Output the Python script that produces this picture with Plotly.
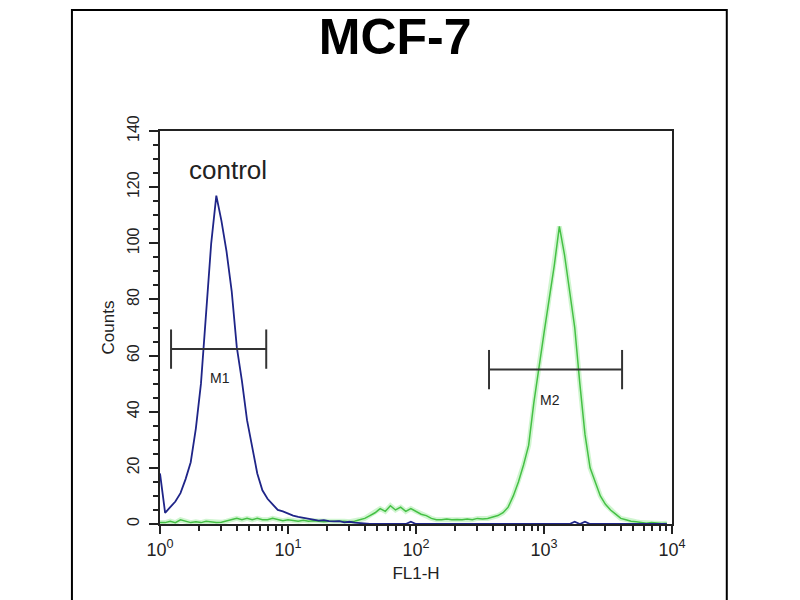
import plotly.graph_objects as go

# histogram channels: 25 bins per decade over 4 decades (10^0 .. 10^4)
bins_per_decade = 25
channels = list(range(100))

control_counts = [
    18, 4, 6, 8, 11, 16, 22, 34, 50, 74,
    100, 117, 108, 97, 83, 63, 51, 37, 27, 18,
    12, 9, 7, 5, 4.5, 3.6, 3, 2.5, 2.2, 2,
    1.5, 1.2, 1.4, 1, 0.9, 1, 0.6, 0.8, 0.5, 0.3,
    0, 0, 0, 0, 0, 0, 0, 0, 0, 0.8,
    0, 0, 0, 0, 0, 0, 0, 0, 0, 0,
    0, 0, 0, 0, 0, 0, 0, 0, 0, 0,
    0, 0, 0, 0, 0, 0, 0, 0, 0, 0,
    0, 0.8, 0, 0.8, 0, 0, 0, 0, 0, 0,
    0, 0, 0, 0, 0, 0, 0, 0, 0, 0,
]

sample_counts = [
    0.5, 0.5, 1, 0.5, 1.5, 1, 0.5, 0.8, 0.5, 1,
    0.8, 0.5, 0.6, 1, 1.5, 2, 1.5, 2, 1.5, 2,
    1.5, 1.5, 2, 1.5, 1.2, 1.5, 1.2, 1, 1.3, 1,
    1.2, 1, 0.8, 1, 1, 1.2, 1, 0.8, 1, 1.5,
    2, 3, 4, 5.5, 4.5, 6.5, 5, 6, 4.5, 5.5,
    4.5, 3.5, 3, 2, 1.5, 1.5, 1.8, 1.5, 1.6, 1.5,
    1.8, 1.5, 2, 1.8, 2, 2.5, 3, 4, 6, 10,
    15, 21, 28, 43, 56, 68, 80, 92, 106, 96,
    83, 70, 50, 32, 20, 15, 10, 7, 5, 3.5,
    2, 1.5, 1, 0.8, 0.5, 0.3, 0.5, 0.3, 0.2, 0.3,
]

# marker gates (M1 on control, M2 on sample)
gate_names = ["M1", "M2"]
gate_low = [1.22, 372]
gate_high = [6.76, 4074]
gate_level = [62.3, 55]

fl1 = [10 ** (c / bins_per_decade) for c in channels]

fig = go.Figure()

# green sample histogram with a soft halo
fig.add_trace(go.Scatter(x=fl1, y=sample_counts, mode='lines',
                         line=dict(color='rgba(120,225,120,0.35)', width=5),
                         hoverinfo='skip', showlegend=False))
fig.add_trace(go.Scatter(x=fl1, y=sample_counts, mode='lines',
                         line=dict(color='#45c045', width=1.5), showlegend=False))

# blue control histogram
fig.add_trace(go.Scatter(x=fl1, y=control_counts, mode='lines',
                         line=dict(color='#1f2588', width=1.8), showlegend=False))

for i in range(len(gate_names)):
    fig.add_trace(go.Scatter(
        x=[gate_low[i], gate_high[i]],
        y=[gate_level[i], gate_level[i]],
        mode='lines',
        line=dict(color='#333333', width=2),
        error_y=dict(type='data', symmetric=True, array=[7, 7],
                     width=0, thickness=2, color='#333333'),
        showlegend=False
    ))

fig.add_annotation(x=0.47, y=52, text="M1", showarrow=False,
                   font=dict(size=14, color='#222222'))
fig.add_annotation(x=3.05, y=44, text="M2", showarrow=False,
                   font=dict(size=14, color='#222222'))
fig.add_annotation(x=0.53, y=126, text="control", showarrow=False,
                   font=dict(size=26, color='#222222'))

# outer frame of the panel
fig.add_shape(type='rect', xref='paper', yref='paper',
              x0=-0.172, x1=1.107, y0=-0.25, y1=1.308,
              line=dict(color='black', width=2))

minor_x = [m * 10 ** d for d in range(4) for m in range(2, 10)]

# page body adds an 8px offset, margins compensate for it
fig.update_layout(
    width=800, height=600,
    margin=dict(l=152, r=136, t=123, b=84),
    paper_bgcolor='white', plot_bgcolor='white',
    font=dict(family='Liberation Sans, Arial, sans-serif', color='#222222', size=16),
    title=dict(text="MCF-7", x=0.484, y=0.953, xanchor='center', yanchor='middle',
               font=dict(size=50, weight='bold', color='black')),
    xaxis=dict(
        type='log', range=[0, 4],
        tickvals=[1, 10, 100, 1000, 10000],
        ticktext=["10<sup>0</sup>", "10<sup>1</sup>", "10<sup>2</sup>",
                  "10<sup>3</sup>", "10<sup>4</sup>"],
        ticks='outside', ticklen=8, tickwidth=2, tickcolor='#222222',
        minor=dict(tickvals=minor_x, ticks='outside', ticklen=5,
                   tickwidth=1.5, tickcolor='#222222'),
        showline=True, linecolor='#222222', linewidth=2, mirror=True,
        showgrid=False, zeroline=False,
        title=dict(text="FL1-H", standoff=9, font=dict(size=17)),
        tickfont=dict(size=18),
    ),
    yaxis=dict(
        range=[0, 140], dtick=20, tickangle=-90,
        ticks='outside', ticklen=9, tickwidth=2, tickcolor='#222222',
        minor=dict(dtick=5, ticks='outside', ticklen=5,
                   tickwidth=1.5, tickcolor='#222222'),
        showline=True, linecolor='#222222', linewidth=2, mirror=True,
        showgrid=False, zeroline=False,
        ticklabelstandoff=4,
        title=dict(text="Counts", standoff=6, font=dict(size=17)),
        tickfont=dict(size=16),
    ),
)

fig.write_html("out.html")
